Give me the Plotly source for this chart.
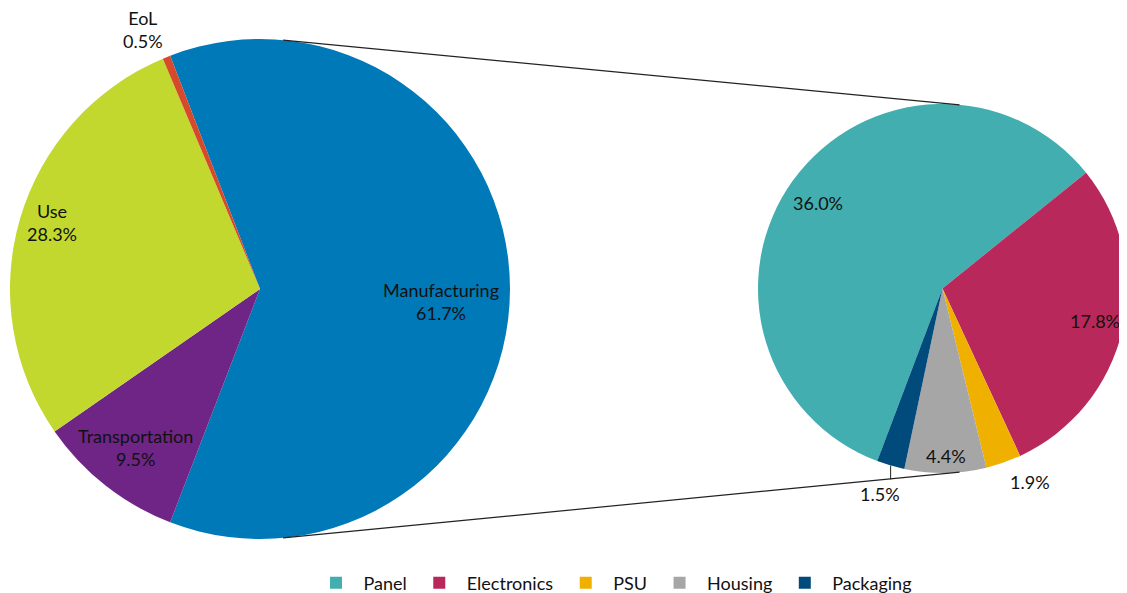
import math
import plotly.graph_objects as go

OFF = 8  # page body margin in the browser (figure starts 8px in)
W, H = 1127 - OFF, 593 - OFF

# Left pie: life-cycle phases
main_labels = ["Manufacturing", "Transportation", "Use", "EoL"]
main_values = [61.7, 9.5, 28.3, 0.5]
main_colors = ["#0079B8", "#6E2585", "#C2D82E", "#D6492A"]

# Right pie: breakdown of manufacturing
sub_labels = ["Panel", "Electronics", "PSU", "Housing", "Packaging"]
sub_values = [36.0, 17.8, 1.9, 4.4, 1.5]
sub_colors = ["#42AEB0", "#B8285A", "#F0B000", "#A6A6A6", "#004A7C"]

# label placement style: fraction of radius and angle offset from slice bisector
main_label_r = [0.726, 0.806, 0.874, 1.137]
main_label_da = [3.8, 0.0, 1.65, -2.3]
sub_label_r = [0.818, 0.845, 1.151, 0.908, 1.164]
sub_label_da = [-1.4, -1.1, -4.9, -0.25, 0.7]

FONT = "Lato, 'Open Sans', sans-serif"
FS = 18
TXT = "#111111"


def sx(x):
    return (x - OFF) / W


def sy(y):
    return 1 - (y - OFF) / H


# pie domains (screen pixels -> paper fractions)
L_dom_x = [sx(10), sx(510)]
L_dom_y = [sy(539), sy(39)]
R_dom_x = [sx(758), 1.0]
R_dom_y = [sy(476), sy(101)]

main_rot = 90 - 360 * main_values[0] / sum(main_values) / 2
sub_rot = 51.1 - 360 * sub_values[0] / sum(sub_values)

fig = go.Figure()
fig.add_trace(go.Pie(
    labels=main_labels, values=main_values, sort=False, direction="clockwise",
    rotation=main_rot, marker=dict(colors=main_colors), textinfo="none",
    domain=dict(x=L_dom_x, y=L_dom_y), showlegend=False, hoverinfo="label+value",
))
fig.add_trace(go.Pie(
    labels=sub_labels, values=sub_values, sort=False, direction="clockwise",
    rotation=sub_rot, marker=dict(colors=sub_colors), textinfo="none",
    domain=dict(x=R_dom_x, y=R_dom_y), showlegend=True, hoverinfo="label+value",
))


def pie_geom(dx, dy):
    """centre and radius in figure pixels, as plotly computes them"""
    wpx = (dx[1] - dx[0]) * W
    hpx = (dy[1] - dy[0]) * H
    r = min(wpx, hpx) / 2
    cx = (dx[0] + dx[1]) / 2 * W
    cy = (1 - (dy[0] + dy[1]) / 2) * H
    return cx, cy, r


def pt(geom, ang, frac=1.0):
    cx, cy, r = geom
    a = math.radians(ang)
    return cx + frac * r * math.sin(a), cy - frac * r * math.cos(a)


def mid_angles(values, rot):
    tot = sum(values)
    out, cur = [], rot
    for v in values:
        span = 360 * v / tot
        out.append(cur + span / 2)
        cur += span
    return out


def to_paper(x, y):
    return x / W, 1 - y / H


gL = pie_geom(L_dom_x, L_dom_y)
gR = pie_geom(R_dom_x, R_dom_y)

annotations = []
for lab, val, ang, fr, da in zip(main_labels, main_values, mid_angles(main_values, main_rot),
                                 main_label_r, main_label_da):
    ax, ay = to_paper(*pt(gL, ang + da, fr))
    annotations.append(dict(x=ax, y=ay, xref="paper", yref="paper", showarrow=False,
                            xanchor="center", yanchor="middle",
                            text=f"{lab}<br>{val:.1f}%", align="center",
                            font=dict(family=FONT, size=FS, color=TXT)))
sub_mids = mid_angles(sub_values, sub_rot)
for val, ang, fr, da in zip(sub_values, sub_mids, sub_label_r, sub_label_da):
    ax, ay = to_paper(*pt(gR, ang + da, fr))
    annotations.append(dict(x=ax, y=ay, xref="paper", yref="paper", showarrow=False,
                            xanchor="center", yanchor="middle",
                            text=f"{val:.1f}%", font=dict(family=FONT, size=FS, color=TXT)))

shapes = []
conn_angle = 5.3
for a in (conn_angle, 180 - conn_angle):
    x0, y0 = to_paper(*pt(gL, a))
    x1, y1 = to_paper(*pt(gR, a))
    shapes.append(dict(type="line", xref="paper", yref="paper",
                       x0=x0, y0=y0, x1=x1, y1=y1,
                       line=dict(color="#222222", width=1.2)))

# leader line for the small Packaging label
ex, ey = pt(gR, sub_mids[4], 1.0)
lx0, ly0 = to_paper(ex, ey)
lx1, ly1 = to_paper(ex, ey + 0.075 * gR[2])
shapes.append(dict(type="line", xref="paper", yref="paper", x0=lx0, y0=ly0, x1=lx1, y1=ly1,
                   line=dict(color="#222222", width=1)))

fig.update_layout(
    width=W, height=H,
    margin=dict(l=0, r=0, t=0, b=0, autoexpand=False),
    paper_bgcolor="white", plot_bgcolor="white",
    font=dict(family=FONT, size=FS, color=TXT),
    shapes=shapes, annotations=annotations,
    legend=dict(orientation="h", x=sx(613), xanchor="center", y=sy(583), yanchor="middle",
                itemwidth=45,
                font=dict(family=FONT, size=FS, color=TXT), itemclick=False),
)
fig.write_html("out.html")
